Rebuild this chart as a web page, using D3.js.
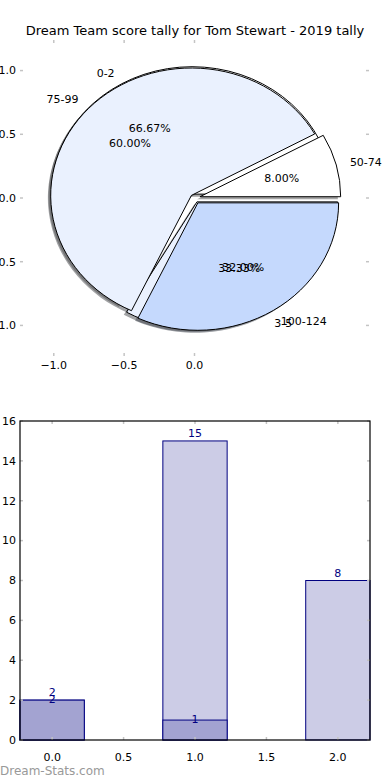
<!DOCTYPE html>
<html>
<head>
<meta charset="utf-8">
<script src="https://cdn.jsdelivr.net/npm/d3@7"></script>
<style>
body { margin: 0; background: #fff; }
text { font-family: "DejaVu Sans", sans-serif; }
</style>
</head>
<body>
<div id="chart"></div>
<script>
// two pies share one axes
var pieLabelsA = ["0-2", "3-5"];
var pieValuesA = [2, 1];
var pieLabelsB = ["50-74", "75-99", "100-124"];
var pieValuesB = [2, 15, 8];

// bars, light series behind the dark one
var barCats = [0, 1, 2];
var barLight = [2, 15, 8];
var barDark = [2, 1];

var pieXTicks = [-1.0, -0.5, 0.0];
var pieYTicks = [-1.0, -0.5, 0.0, 0.5, 1.0];
var barXTicks = [0, 0.5, 1, 1.5, 2];
var barYTicks = [0, 2, 4, 6, 8, 10, 12, 14, 16];

var W = 390, H = 780;
var tickCol = "#c4c4c4";
var fmt1 = d3.format(".1f");
function minus(s) { return s.replace("-", "\u2212"); }

var svg = d3.select("#chart").append("svg")
    .attr("width", W)
    .attr("height", H);

svg.append("text")
    .attr("x", 195).attr("y", 35)
    .attr("text-anchor", "middle")
    .style("font-size", "13px")
    .text("Dream Team score tally for Tom Stewart - 2019 tally");

// ---------- pie axes ----------
var px = d3.scaleLinear().domain([-1.24, 1.24]).range([20, 369]);
var py = d3.scaleLinear().domain([-1.24, 1.24]).range([356, 40]);

var pieG = svg.append("g")
    .attr("transform", "translate(" + px(0) + "," + py(0) + ") scale(" + (px(1) - px(0)) + "," + (py(0) - py(1)) + ")");

var pie = d3.pie().sort(null).value(function(d) { return d; })
    .startAngle(Math.PI / 2).endAngle(Math.PI / 2 - 2 * Math.PI);
var arc = d3.arc().innerRadius(0).outerRadius(1);

var colorsA = ["#ffffff", "#eaf1fe"];
var colorsB = ["#ffffff", "#eaf1fe", "#c5d9fd"];
var explodeA = [0.035, 0.035];
var explodeB = [0.04, 0.03, 0.045];

function build(values, labels, colors, explode) {
  return pie(values).map(function(a, i) {
    var m = (a.startAngle + a.endAngle) / 2;
    var th = Math.PI / 2 - m;
    var e = explode[i];
    return {
      arc: a, label: labels[i], color: colors[i],
      dx: e * Math.cos(th), dy: e * Math.sin(th), th: th,
      pct: a.value / d3.sum(values) * 100
    };
  });
}
var wedges = build(pieValuesA, pieLabelsA, colorsA, explodeA)
    .concat(build(pieValuesB, pieLabelsB, colorsB, explodeB));

// shadows first, then wedges
pieG.selectAll(".shadow").data(wedges).enter().append("path")
    .attr("class", "shadow")
    .attr("d", function(d) { return arc(d.arc); })
    .attr("transform", function(d) { return "translate(" + (d.dx - 0.02) + "," + (-d.dy + 0.02) + ")"; })
    .style("fill", function(d) {
      var c = d3.rgb(d.color);
      return d3.rgb(c.r * 0.3, c.g * 0.3, c.b * 0.3);
    })
    .style("opacity", 0.5);

pieG.selectAll(".wedge").data(wedges).enter().append("path")
    .attr("class", "wedge")
    .attr("d", function(d) { return arc(d.arc); })
    .attr("transform", function(d) { return "translate(" + d.dx + "," + (-d.dy) + ")"; })
    .style("fill", function(d) { return d.color; })
    .style("stroke", "#000")
    .style("stroke-width", 1)
    .attr("vector-effect", "non-scaling-stroke");

svg.selectAll(".plabel").data(wedges).enter().append("text")
    .attr("x", function(d) { return px(d.dx + 1.1 * Math.cos(d.th)); })
    .attr("y", function(d) { return py(d.dy + 1.1 * Math.sin(d.th)); })
    .attr("dy", "0.35em")
    .attr("text-anchor", function(d) { return (d.dx + 1.1 * Math.cos(d.th)) > 0 ? "start" : "end"; })
    .style("font-size", "11px")
    .text(function(d) { return d.label; });

svg.selectAll(".ppct").data(wedges).enter().append("text")
    .attr("x", function(d) { return px(d.dx + 0.6 * Math.cos(d.th)); })
    .attr("y", function(d) { return py(d.dy + 0.6 * Math.sin(d.th)); })
    .attr("dy", "0.35em")
    .attr("text-anchor", "middle")
    .style("font-size", "11px")
    .text(function(d) { return d.pct.toFixed(2) + "%"; });

// pie ticks (gray, inward, no frame)
pieXTicks.forEach(function(t) {
  svg.append("line").attr("x1", px(t)).attr("x2", px(t)).attr("y1", 40).attr("y2", 43)
      .style("stroke", tickCol).style("stroke-width", 1.5);
  svg.append("line").attr("x1", px(t)).attr("x2", px(t)).attr("y1", 356).attr("y2", 353)
      .style("stroke", tickCol).style("stroke-width", 1.5);
  svg.append("text").attr("x", px(t)).attr("y", 369)
      .attr("text-anchor", "middle").style("font-size", "11px")
      .text(minus(fmt1(t)));
});
pieYTicks.forEach(function(t) {
  svg.append("line").attr("x1", 20).attr("x2", 23).attr("y1", py(t)).attr("y2", py(t))
      .style("stroke", tickCol).style("stroke-width", 1.5);
  svg.append("line").attr("x1", 369).attr("x2", 366).attr("y1", py(t)).attr("y2", py(t))
      .style("stroke", tickCol).style("stroke-width", 1.5);
  svg.append("text").attr("x", 16).attr("y", py(t)).attr("dy", "0.35em")
      .attr("text-anchor", "end").style("font-size", "11px")
      .text(minus(fmt1(t)));
});

// ---------- bar axes ----------
var bx = d3.scaleLinear().domain([-0.225, 2.225]).range([20, 370]);
var by = d3.scaleLinear().domain([0, 16]).range([740, 421]);
var bw = 0.45;

var barG = svg.append("g");

barG.selectAll(".light").data(barLight).enter().append("rect")
    .attr("x", function(d, i) { return bx(barCats[i] - bw / 2); })
    .attr("y", function(d) { return by(d); })
    .attr("width", bx(bw) - bx(0))
    .attr("height", function(d) { return by(0) - by(d); })
    .style("fill", "#ccccE6")
    .style("stroke", "#000080")
    .style("stroke-width", 1);

barG.selectAll(".dark").data(barDark).enter().append("rect")
    .attr("x", function(d, i) { return bx(barCats[i] - bw / 2); })
    .attr("y", function(d) { return by(d); })
    .attr("width", bx(bw) - bx(0))
    .attr("height", function(d) { return by(0) - by(d); })
    .style("fill", "#a3a3d1")
    .style("stroke", "#000080")
    .style("stroke-width", 1);

barG.selectAll(".lightlab").data(barLight).enter().append("text")
    .attr("x", function(d, i) { return bx(barCats[i]); })
    .attr("y", function(d) { return by(d) - 4; })
    .attr("text-anchor", "middle")
    .style("font-size", "11px").style("fill", "#000080")
    .text(function(d) { return d; });

barG.selectAll(".darklab").data(barDark).enter().append("text")
    .attr("x", function(d, i) { return bx(barCats[i]); })
    .attr("y", function(d) { return by(d) + 3; })
    .attr("text-anchor", "middle")
    .style("font-size", "11px").style("fill", "#000080")
    .text(function(d) { return d; });

barXTicks.forEach(function(t) {
  svg.append("line").attr("x1", bx(t)).attr("x2", bx(t)).attr("y1", 421).attr("y2", 424)
      .style("stroke", tickCol).style("stroke-width", 1.5);
  svg.append("line").attr("x1", bx(t)).attr("x2", bx(t)).attr("y1", 740).attr("y2", 737)
      .style("stroke", tickCol).style("stroke-width", 1.5);
  svg.append("text").attr("x", bx(t)).attr("y", 761)
      .attr("text-anchor", "middle").style("font-size", "11px")
      .text(fmt1(t));
});
barYTicks.forEach(function(t) {
  svg.append("line").attr("x1", 20).attr("x2", 23).attr("y1", by(t)).attr("y2", by(t))
      .style("stroke", tickCol).style("stroke-width", 1.5);
  svg.append("line").attr("x1", 370).attr("x2", 367).attr("y1", by(t)).attr("y2", by(t))
      .style("stroke", tickCol).style("stroke-width", 1.5);
  svg.append("text").attr("x", 16).attr("y", by(t)).attr("dy", "0.35em")
      .attr("text-anchor", "end").style("font-size", "11px")
      .text(t);
});

svg.append("rect")
    .attr("x", 20).attr("y", 421)
    .attr("width", 350).attr("height", 319)
    .style("fill", "none").style("stroke", "#000").style("stroke-width", 1.2);

svg.append("text")
    .attr("x", 0).attr("y", 775)
    .style("font-size", "12px").style("fill", "#999")
    .text("Dream-Stats.com");
</script>
</body>
</html>
